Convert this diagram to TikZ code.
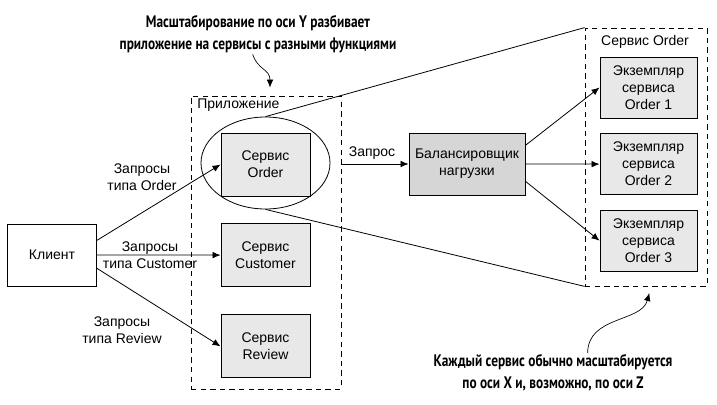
\documentclass[tikz,border=0pt]{standalone}
\usepackage{fontspec}
\setmainfont{Liberation Sans}
\newfontfamily\notefont[FakeStretch=0.8]{PT Sans}
\usetikzlibrary{arrows.meta,positioning,shapes.geometric}
\tikzset{
  base/.style={font=\fontsize{10.5}{12.75}\selectfont},
  plainbox/.style={base, draw, line width=0.7pt, align=center, minimum width=66.75pt, minimum height=46.5pt, inner sep=1pt},
  svcbox/.style={plainbox, fill=gray!18, minimum height=47.25pt},
  instbox/.style={plainbox, fill=gray!18, minimum width=72.75pt, minimum height=45.75pt},
  lbbox/.style={plainbox, fill=gray!32, minimum width=87pt},
  groupbox/.style={draw, line width=0.6pt, dash pattern=on 4pt off 3.2pt, inner sep=0pt},
  txt/.style={base, align=center, inner sep=0pt},
  note/.style={align=center, inner sep=0pt, font=\notefont\bfseries\fontsize{12.5}{16.5}\selectfont},
  arrow/.style={-{Latex[length=6pt,width=5pt]}, line width=0.6pt},
  curvearrow/.style={-{Latex[length=6pt,width=5pt]}, line width=0.5pt},
  link/.style={line width=0.6pt}
}
\begin{document}
\begin{tikzpicture}[x=0.75pt, y=-0.75pt]
  \useasboundingbox (0,0) rectangle (717,404);

  \node[groupbox, minimum width=112.5pt, minimum height=219.75pt] (app) at (266,242.5) {};
  \node[txt, anchor=west] (applabel) at (197,105) {Приложение};
  \node[groupbox, minimum width=91.5pt, minimum height=193.5pt] (ordgrp) at (646,157) {};
  \node[txt] (ordlabel) at (645,42) {Сервис Order};

  \node[plainbox] (client) at (52,255) {Клиент};
  \node[svcbox] (order) at (265.5,164.5) {Сервис\\Order};
  \node[svcbox, below=20pt of order] (customer) {Сервис\\Customer};
  \node[svcbox, below=20.5pt of customer] (review) {Сервис\\Review};
  \node[draw, ellipse, line width=0.6pt, minimum width=96.75pt, minimum height=69pt, inner sep=0pt] (ell) at (265.5,163) {};

  \node[lbbox] (lb) at (467,164) {Балансировщик\\нагрузки};
  \node[instbox] (inst1) at (648.5,87.5) {Экземпляр\\сервиса\\Order 1};
  \node[instbox, below=11pt of inst1] (inst2) {Экземпляр\\сервиса\\Order 2};
  \node[instbox, below=11pt of inst2] (inst3) {Экземпляр\\сервиса\\Order 3};

  \node[txt] (qorder) at (142,177) {Запросы\\типа Order};
  \node[txt] (qcust) at (150,255.5) {Запросы\\типа Customer};
  \node[txt] (qrev) at (122,330) {Запросы\\типа Review};
  \node[txt] (qone) at (372,153) {Запрос};

  \node[note] (ynote) at (258,34) {Масштабирование по оси Y разбивает\\приложение на сервисы с разными функциями};
  \node[note] (znote) at (553,373) {Каждый сервис обычно масштабируется\\по оси X и, возможно, по оси Z};

  \draw[arrow] ([yshift=11pt]client.east) -- (order.west);
  \draw[arrow] (client.east) -- (customer.west);
  \draw[arrow] ([yshift=-10pt]client.east) -- (review.west);
  \draw[arrow] (app.east |- lb.west) -- (lb.west);
  \draw[arrow] ([yshift=14pt]lb.east) -- (inst1.west);
  \draw[arrow] (lb.east) -- (inst2.west);
  \draw[arrow] ([yshift=-13pt]lb.east) -- (inst3.west);

  \draw[link] (ell.north) -- (ordgrp.north west);
  \draw[link] (ell.south) -- (ordgrp.south west);

  \draw[curvearrow] ([xshift=-4pt,yshift=-1pt]ynote.south) .. controls +(4pt,-12pt) and +(0pt,14pt) .. ([xshift=3pt,yshift=6pt]app.north);
  \draw[curvearrow] ([xshift=26pt,yshift=1pt]znote.north) .. controls +(0pt,28pt) and +(-6pt,-22pt) .. ([xshift=2.5pt,yshift=-5pt]ordgrp.south);
\end{tikzpicture}
\end{document}
